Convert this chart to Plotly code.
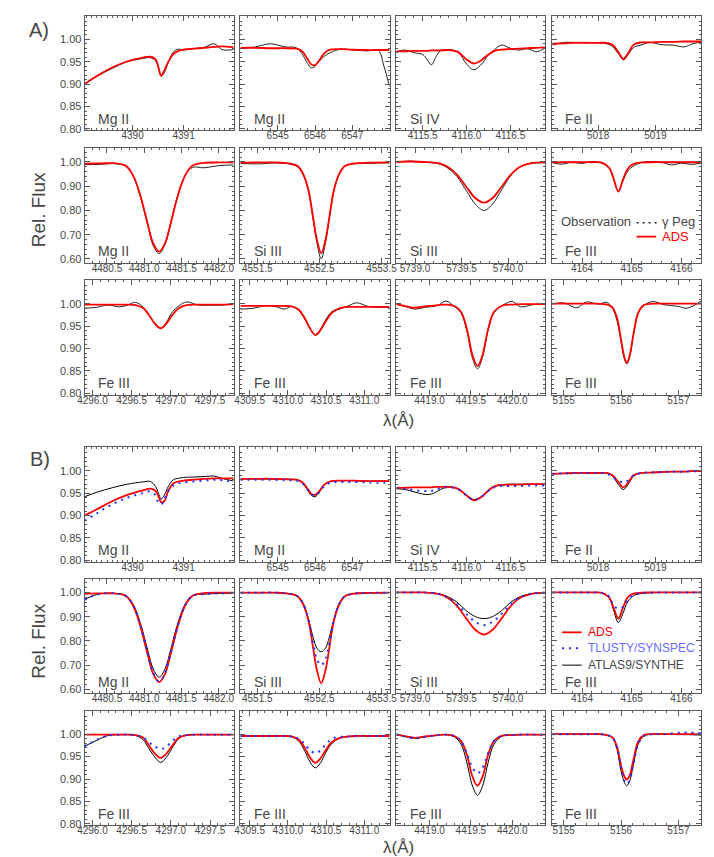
import plotly.graph_objects as go
from plotly.subplots import make_subplots

# --- Data: wavelength (A) and relative flux ---
# A) = observation of gamma Peg + ADS model, B) = ADS / TLUSTY / ATLAS9 models

# Mg II 4390.6
MG4390_WL = [4389.06, 4389.3, 4389.6, 4389.9, 4390.2, 4390.35, 4390.45, 4390.5, 4390.56, 4390.62,
             4390.7, 4390.8, 4390.9, 4391.0, 4391.2, 4391.4, 4391.6, 4391.75, 4391.98]
MG4390_OBS = [0.900, 0.917, 0.935, 0.950, 0.957, 0.959, 0.952, 0.940, 0.917, 0.925,
              0.948, 0.972, 0.978, 0.976, 0.979, 0.982, 0.990, 0.977, 0.977]
MG4390_ADS_A = [0.900, 0.918, 0.937, 0.951, 0.959, 0.961, 0.955, 0.940, 0.919, 0.930,
                0.950, 0.967, 0.974, 0.977, 0.979, 0.981, 0.983, 0.984, 0.982]
MG4390_ADS_B = [0.900, 0.914, 0.932, 0.946, 0.956, 0.960, 0.955, 0.945, 0.930, 0.932,
                0.955, 0.972, 0.976, 0.978, 0.980, 0.982, 0.983, 0.983, 0.983]
MG4390_TLUSTY = [0.888, 0.905, 0.925, 0.940, 0.950, 0.954, 0.945, 0.930, 0.925, 0.935,
                 0.955, 0.968, 0.972, 0.974, 0.976, 0.978, 0.980, 0.979, 0.975]
MG4390_ATLAS = [0.942, 0.952, 0.962, 0.970, 0.975, 0.976, 0.965, 0.952, 0.937, 0.945,
                0.965, 0.980, 0.983, 0.985, 0.986, 0.987, 0.988, 0.983, 0.977]

# Mg II 6546
MG6546_WL = [6544.0, 6544.4, 6544.8, 6545.2, 6545.5, 6545.65, 6545.8, 6545.9, 6546.0, 6546.1,
             6546.25, 6546.4, 6546.7, 6547.0, 6547.4, 6547.7, 6547.85, 6548.0]
MG6546_OBS = [0.979, 0.983, 0.990, 0.983, 0.981, 0.968, 0.946, 0.936, 0.940, 0.950,
              0.962, 0.970, 0.978, 0.976, 0.974, 0.975, 0.940, 0.895]
MG6546_ADS_A = [0.981, 0.981, 0.980, 0.980, 0.979, 0.974, 0.956, 0.944, 0.942, 0.951,
                0.969, 0.977, 0.978, 0.977, 0.976, 0.976, 0.976, 0.976]
MG6546_ADS_B = [0.982, 0.982, 0.982, 0.981, 0.980, 0.975, 0.960, 0.949, 0.946, 0.953,
                0.969, 0.976, 0.978, 0.978, 0.977, 0.977, 0.977, 0.977]
MG6546_TLUSTY = [0.980, 0.980, 0.980, 0.979, 0.978, 0.973, 0.958, 0.948, 0.945, 0.951,
                 0.966, 0.973, 0.975, 0.975, 0.974, 0.973, 0.973, 0.973]
MG6546_ATLAS = [0.982, 0.982, 0.982, 0.981, 0.980, 0.974, 0.957, 0.945, 0.942, 0.950,
                0.968, 0.976, 0.978, 0.978, 0.977, 0.977, 0.977, 0.977]

# Si IV 4116
SI4116_WL = [4115.2, 4115.3, 4115.4, 4115.5, 4115.55, 4115.6, 4115.65, 4115.7, 4115.8, 4115.9,
             4116.0, 4116.08, 4116.16, 4116.25, 4116.32, 4116.4, 4116.5, 4116.6, 4116.7, 4116.8, 4116.9]
SI4116_OBS = [0.972, 0.976, 0.970, 0.966, 0.955, 0.943, 0.960, 0.974, 0.977, 0.972,
              0.945, 0.932, 0.942, 0.965, 0.977, 0.987, 0.980, 0.976, 0.979, 0.972, 0.981]
SI4116_ADS_A = [0.973, 0.973, 0.974, 0.974, 0.974, 0.975, 0.975, 0.975, 0.976, 0.972,
                0.955, 0.946, 0.952, 0.966, 0.974, 0.977, 0.978, 0.979, 0.980, 0.981, 0.982]
SI4116_ADS_B = [0.962, 0.962, 0.963, 0.963, 0.963, 0.963, 0.964, 0.964, 0.964, 0.960,
                0.945, 0.934, 0.940, 0.956, 0.965, 0.968, 0.969, 0.969, 0.970, 0.970, 0.970]
SI4116_TLUSTY = [0.961, 0.960, 0.957, 0.955, 0.955, 0.955, 0.958, 0.961, 0.963, 0.959,
                 0.945, 0.935, 0.940, 0.955, 0.963, 0.966, 0.966, 0.966, 0.967, 0.967, 0.967]
SI4116_ATLAS = [0.960, 0.958, 0.953, 0.948, 0.947, 0.948, 0.952, 0.958, 0.964, 0.960,
                0.946, 0.936, 0.941, 0.957, 0.966, 0.969, 0.970, 0.970, 0.970, 0.970, 0.970]

# Fe II 5018
FE5018_WL = [5017.2, 5017.4, 5017.6, 5017.8, 5018.0, 5018.15, 5018.25, 5018.35, 5018.44,
             5018.52, 5018.62, 5018.75, 5018.9, 5019.1, 5019.3, 5019.5, 5019.65, 5019.8]
FE5018_OBS = [0.987, 0.993, 0.993, 0.993, 0.992, 0.990, 0.984, 0.968, 0.954,
              0.965, 0.982, 0.987, 0.993, 0.988, 0.987, 0.983, 0.990, 0.994]
FE5018_ADS_A = [0.990, 0.991, 0.992, 0.992, 0.992, 0.992, 0.988, 0.972, 0.956,
                0.968, 0.988, 0.993, 0.993, 0.994, 0.994, 0.995, 0.995, 0.995]
FE5018_ADS_B = [0.993, 0.994, 0.995, 0.995, 0.995, 0.995, 0.990, 0.975, 0.963,
                0.973, 0.990, 0.995, 0.996, 0.997, 0.998, 0.998, 0.999, 0.999]
FE5018_TLUSTY = [0.993, 0.994, 0.995, 0.995, 0.995, 0.994, 0.986, 0.978, 0.974,
                 0.978, 0.990, 0.995, 0.996, 0.997, 0.998, 0.998, 0.999, 0.999]
FE5018_ATLAS = [0.993, 0.994, 0.995, 0.995, 0.995, 0.995, 0.988, 0.970, 0.958,
                0.969, 0.988, 0.995, 0.996, 0.997, 0.998, 0.998, 0.999, 0.999]

# Mg II 4481
MG4481_WL = [4480.2, 4480.4, 4480.6, 4480.75, 4480.85, 4480.95, 4481.05, 4481.12, 4481.2,
             4481.28, 4481.35, 4481.45, 4481.55, 4481.65, 4481.8, 4482.0, 4482.2]
MG4481_OBS = [0.989, 0.990, 0.993, 0.983, 0.943, 0.855, 0.735, 0.655, 0.622,
              0.660, 0.740, 0.862, 0.945, 0.978, 0.976, 0.985, 0.988]
MG4481_ADS_A = [0.993, 0.994, 0.995, 0.985, 0.945, 0.860, 0.740, 0.665, 0.630,
                0.665, 0.740, 0.860, 0.945, 0.985, 0.996, 0.998, 0.998]
MG4481_ADS_B = [0.995, 0.996, 0.996, 0.986, 0.946, 0.860, 0.740, 0.665, 0.630,
                0.665, 0.740, 0.860, 0.946, 0.986, 0.997, 0.999, 0.999]
MG4481_TLUSTY = [0.970, 0.994, 0.996, 0.986, 0.947, 0.862, 0.742, 0.668, 0.633,
                 0.668, 0.742, 0.862, 0.947, 0.986, 0.993, 0.996, 0.998]
MG4481_ATLAS = [0.972, 0.994, 0.996, 0.988, 0.952, 0.872, 0.758, 0.685, 0.650,
                0.685, 0.758, 0.872, 0.952, 0.988, 0.993, 0.996, 0.998]

# Si III 4552
SI4552_WL = [4551.23, 4551.5, 4551.8, 4552.0, 4552.15, 4552.25, 4552.33, 4552.4, 4552.46,
             4552.53, 4552.6, 4552.66, 4552.73, 4552.81, 4552.91, 4553.05, 4553.3, 4553.63]
SI4552_OBS = [0.994, 0.992, 0.996, 0.993, 0.980, 0.940, 0.872, 0.762, 0.668,
              0.600, 0.668, 0.765, 0.878, 0.945, 0.982, 0.992, 0.995, 0.996]
SI4552_ADS_A = [0.997, 0.998, 0.998, 0.994, 0.983, 0.945, 0.878, 0.770, 0.680,
                0.623, 0.680, 0.770, 0.878, 0.945, 0.983, 0.994, 0.997, 0.998]
SI4552_ADS_B = [0.999, 0.999, 0.999, 0.995, 0.984, 0.945, 0.878, 0.770, 0.680,
                0.625, 0.680, 0.770, 0.878, 0.945, 0.984, 0.995, 0.998, 0.999]
SI4552_TLUSTY = [0.999, 0.999, 0.999, 0.995, 0.984, 0.947, 0.880, 0.790, 0.725,
                 0.700, 0.725, 0.790, 0.880, 0.947, 0.984, 0.995, 0.998, 0.999]
SI4552_ATLAS = [0.999, 0.999, 0.999, 0.995, 0.985, 0.950, 0.885, 0.815, 0.770,
                0.755, 0.770, 0.815, 0.885, 0.950, 0.985, 0.995, 0.998, 0.999]

# Si III 5739
SI5739_WL = [5738.8, 5738.95, 5739.1, 5739.25, 5739.35, 5739.45, 5739.55, 5739.65, 5739.74,
             5739.83, 5739.93, 5740.03, 5740.13, 5740.25, 5740.4]
SI5739_OBS = [0.998, 1.004, 0.999, 0.993, 0.975, 0.940, 0.882, 0.825, 0.800,
              0.825, 0.885, 0.945, 0.980, 0.995, 0.997]
SI5739_ADS_A = [1.000, 1.002, 1.000, 0.995, 0.980, 0.948, 0.898, 0.850, 0.832,
                0.850, 0.898, 0.948, 0.980, 0.995, 0.998]
SI5739_ADS_B = [1.000, 1.000, 1.000, 0.994, 0.978, 0.945, 0.893, 0.845, 0.826,
                0.845, 0.893, 0.945, 0.978, 0.994, 0.999]
SI5739_TLUSTY = [1.000, 1.000, 1.000, 0.995, 0.980, 0.952, 0.912, 0.878, 0.865,
                 0.878, 0.912, 0.952, 0.980, 0.995, 0.999]
SI5739_ATLAS = [1.000, 1.000, 1.000, 0.995, 0.983, 0.960, 0.925, 0.900, 0.892,
                0.900, 0.925, 0.960, 0.983, 0.995, 0.999]

# Fe III 4164
FE4164_WL = [4163.4, 4163.6, 4163.8, 4164.0, 4164.2, 4164.4, 4164.55, 4164.63, 4164.73, 4164.82,
             4164.92, 4165.05, 4165.2, 4165.4, 4165.6, 4165.8, 4166.0, 4166.2, 4166.4]
FE4164_OBS = [0.997, 0.991, 0.999, 0.994, 1.002, 0.995, 0.972, 0.930, 0.880, 0.920,
              0.962, 0.985, 0.998, 1.002, 0.999, 0.988, 0.995, 0.990, 0.996]
FE4164_ADS_A = [0.998, 0.999, 0.999, 0.999, 0.999, 0.997, 0.975, 0.935, 0.878, 0.925,
                0.972, 0.993, 0.998, 0.999, 0.999, 0.999, 0.999, 0.999, 0.999]
FE4164_ADS_B = [1.000, 1.000, 1.000, 1.000, 1.000, 0.998, 0.978, 0.940, 0.892, 0.935,
                0.980, 0.996, 0.999, 1.000, 1.000, 1.000, 1.000, 1.000, 1.000]
FE4164_TLUSTY = [1.000, 1.000, 1.000, 1.000, 1.000, 0.998, 0.982, 0.945, 0.935, 0.940,
                 0.968, 0.990, 0.997, 0.999, 1.000, 1.000, 1.000, 1.000, 1.000]
FE4164_ATLAS = [1.000, 1.000, 1.000, 1.000, 1.000, 0.998, 0.975, 0.930, 0.876, 0.912,
                0.962, 0.988, 0.996, 0.999, 1.000, 1.000, 1.000, 1.000, 1.000]

# Fe III 4297
FE4297_WL = [4295.9, 4296.05, 4296.2, 4296.35, 4296.45, 4296.55, 4296.65, 4296.72, 4296.8,
             4296.87, 4296.94, 4297.02, 4297.1, 4297.2, 4297.35, 4297.5, 4297.65, 4297.8]
FE4297_OBS = [0.990, 0.992, 0.997, 0.993, 0.997, 1.003, 0.992, 0.975, 0.953,
              0.945, 0.958, 0.982, 0.995, 1.004, 0.997, 0.997, 0.997, 1.000]
FE4297_ADS_A = [0.998, 0.998, 0.998, 0.998, 0.998, 0.997, 0.990, 0.975, 0.955,
                0.945, 0.955, 0.975, 0.990, 0.997, 0.998, 0.998, 0.998, 0.999]
FE4297_ADS_B = [0.999, 0.999, 0.999, 0.999, 0.999, 0.998, 0.992, 0.975, 0.956,
                0.947, 0.956, 0.975, 0.992, 0.998, 0.999, 0.999, 0.999, 0.999]
FE4297_TLUSTY = [0.973, 0.987, 0.997, 0.999, 0.999, 0.998, 0.992, 0.982, 0.972,
                 0.967, 0.972, 0.985, 0.995, 0.998, 0.999, 0.999, 0.999, 0.999]
FE4297_ATLAS = [0.973, 0.986, 0.997, 0.999, 0.999, 0.997, 0.987, 0.968, 0.948,
                0.937, 0.948, 0.970, 0.990, 0.998, 0.999, 0.999, 0.999, 0.999]

# Fe III 4310
FE4310_WL = [4309.38, 4309.55, 4309.72, 4309.85, 4309.96, 4310.05, 4310.14, 4310.22, 4310.29, 4310.36,
             4310.43, 4310.5, 4310.58, 4310.68, 4310.8, 4310.9, 4311.05, 4311.2, 4311.33]
FE4310_OBS = [0.988, 0.990, 0.996, 0.993, 0.988, 0.994, 0.985, 0.966, 0.944, 0.931,
              0.944, 0.966, 0.983, 0.988, 0.996, 1.002, 0.994, 0.992, 0.992]
FE4310_ADS_A = [0.995, 0.995, 0.995, 0.995, 0.995, 0.994, 0.987, 0.968, 0.945, 0.930,
                0.942, 0.962, 0.980, 0.990, 0.993, 0.993, 0.993, 0.993, 0.993]
FE4310_ADS_B = [0.996, 0.996, 0.996, 0.996, 0.996, 0.995, 0.988, 0.970, 0.948, 0.936,
                0.947, 0.966, 0.983, 0.992, 0.995, 0.996, 0.996, 0.996, 0.996]
FE4310_TLUSTY = [0.996, 0.996, 0.996, 0.996, 0.996, 0.995, 0.990, 0.978, 0.964, 0.958,
                 0.964, 0.978, 0.990, 0.994, 0.995, 0.996, 0.996, 0.996, 0.996]
FE4310_ATLAS = [0.996, 0.996, 0.996, 0.996, 0.996, 0.994, 0.985, 0.963, 0.938, 0.925,
                0.937, 0.960, 0.980, 0.991, 0.995, 0.996, 0.996, 0.996, 0.996]

# Fe III 4419
FE4419_WL = [4418.6, 4418.72, 4418.82, 4418.95, 4419.1, 4419.2, 4419.3, 4419.38, 4419.45, 4419.52,
             4419.58, 4419.64, 4419.71, 4419.78, 4419.88, 4420.0, 4420.1, 4420.25, 4420.4]
FE4419_OBS = [0.999, 0.993, 0.988, 0.992, 0.996, 1.006, 0.994, 0.980, 0.940, 0.878,
              0.855, 0.880, 0.942, 0.980, 0.996, 1.005, 0.993, 0.998, 0.999]
FE4419_ADS_A = [0.999, 0.994, 0.991, 0.994, 0.997, 0.998, 0.995, 0.982, 0.945, 0.885,
                0.861, 0.885, 0.945, 0.982, 0.996, 0.998, 0.999, 0.999, 0.999]
FE4419_ADS_B = [0.999, 0.995, 0.992, 0.995, 0.998, 0.999, 0.996, 0.985, 0.955, 0.905,
                0.885, 0.905, 0.955, 0.985, 0.997, 0.998, 0.999, 0.999, 0.999]
FE4419_TLUSTY = [1.000, 0.994, 0.991, 0.994, 0.998, 0.999, 0.996, 0.985, 0.958, 0.925,
                 0.913, 0.925, 0.958, 0.985, 0.997, 0.998, 0.999, 0.999, 0.999]
FE4419_ATLAS = [0.999, 0.994, 0.991, 0.994, 0.998, 0.999, 0.994, 0.978, 0.938, 0.884,
                0.864, 0.884, 0.938, 0.978, 0.996, 0.998, 0.999, 0.999, 0.999]

# Fe III 5156
FE5156_WL = [5154.8, 5155.0, 5155.23, 5155.4, 5155.6, 5155.75, 5155.85, 5155.93, 5156.0, 5156.06,
             5156.1, 5156.15, 5156.22, 5156.3, 5156.4, 5156.55, 5156.75, 5157.0, 5157.15, 5157.4]
FE5156_OBS = [0.999, 1.002, 0.991, 1.004, 0.999, 1.003, 0.990, 0.962, 0.915, 0.876,
              0.866, 0.880, 0.932, 0.978, 0.996, 1.005, 0.998, 0.994, 0.990, 1.006]
FE5156_ADS_A = [1.000, 1.000, 1.000, 1.000, 1.000, 0.998, 0.992, 0.968, 0.920, 0.880,
                0.868, 0.884, 0.935, 0.980, 0.997, 1.000, 1.000, 1.000, 1.000, 1.000]
FE5156_ADS_B = [1.000, 1.000, 1.000, 1.000, 1.000, 0.998, 0.993, 0.972, 0.930, 0.905,
                0.899, 0.908, 0.945, 0.984, 0.998, 1.000, 1.000, 1.000, 1.000, 1.000]
FE5156_TLUSTY = [1.000, 1.000, 1.000, 1.000, 1.000, 0.998, 0.993, 0.970, 0.925, 0.896,
                 0.889, 0.898, 0.936, 0.978, 0.996, 1.000, 1.000, 1.003, 1.004, 1.002]
FE5156_ATLAS = [1.000, 1.000, 1.000, 1.000, 1.000, 0.998, 0.992, 0.966, 0.918, 0.892,
                0.885, 0.895, 0.935, 0.978, 0.996, 1.000, 1.000, 0.999, 0.999, 0.998]

# tick labels
MG4390_TICKS = [4390, 4391]
MG6546_TICKS = [6545, 6546, 6547]
SI4116_TICKS = [4115.5, 4116.0, 4116.5]
FE5018_TICKS = [5018, 5019]
MG4481_TICKS = [4480.5, 4481.0, 4481.5, 4482.0]
SI4552_TICKS = [4551.5, 4552.5, 4553.5]
SI5739_TICKS = [5739.0, 5739.5, 5740.0]
FE4164_TICKS = [4164, 4165, 4166]
FE4297_TICKS = [4296.0, 4296.5, 4297.0, 4297.5]
FE4310_TICKS = [4309.5, 4310.0, 4310.5, 4311.0]
FE4419_TICKS = [4419.0, 4419.5, 4420.0]
FE5156_TICKS = [5155, 5156, 5157]

Y_TICKS_WEAK = [0.80, 0.85, 0.90, 0.95, 1.00]
Y_TICKS_STRONG = [0.60, 0.70, 0.80, 0.90, 1.00]

LINE_NAMES = ["Mg II", "Mg II", "Si IV", "Fe II",
              "Mg II", "Si III", "Si III", "Fe III",
              "Fe III", "Fe III", "Fe III", "Fe III"]

# --- per-subplot table (layout: x range, tick format, minor tick step) ---
LINES = [
    (MG4390_WL, MG4390_OBS, MG4390_ADS_A, MG4390_ADS_B, MG4390_TLUSTY, MG4390_ATLAS, MG4390_TICKS, [4389.06, 4391.98], "d", 0.1),
    (MG6546_WL, MG6546_OBS, MG6546_ADS_A, MG6546_ADS_B, MG6546_TLUSTY, MG6546_ATLAS, MG6546_TICKS, [6544.0, 6548.0], "d", 0.2),
    (SI4116_WL, SI4116_OBS, SI4116_ADS_A, SI4116_ADS_B, SI4116_TLUSTY, SI4116_ATLAS, SI4116_TICKS, [4115.2, 4116.9], ".1f", 0.1),
    (FE5018_WL, FE5018_OBS, FE5018_ADS_A, FE5018_ADS_B, FE5018_TLUSTY, FE5018_ATLAS, FE5018_TICKS, [5017.2, 5019.8], "d", 0.1),
    (MG4481_WL, MG4481_OBS, MG4481_ADS_A, MG4481_ADS_B, MG4481_TLUSTY, MG4481_ATLAS, MG4481_TICKS, [4480.2, 4482.2], ".1f", 0.1),
    (SI4552_WL, SI4552_OBS, SI4552_ADS_A, SI4552_ADS_B, SI4552_TLUSTY, SI4552_ATLAS, SI4552_TICKS, [4551.23, 4553.63], ".1f", 0.1),
    (SI5739_WL, SI5739_OBS, SI5739_ADS_A, SI5739_ADS_B, SI5739_TLUSTY, SI5739_ATLAS, SI5739_TICKS, [5738.8, 5740.4], ".1f", 0.1),
    (FE4164_WL, FE4164_OBS, FE4164_ADS_A, FE4164_ADS_B, FE4164_TLUSTY, FE4164_ATLAS, FE4164_TICKS, [4163.4, 4166.4], "d", 0.2),
    (FE4297_WL, FE4297_OBS, FE4297_ADS_A, FE4297_ADS_B, FE4297_TLUSTY, FE4297_ATLAS, FE4297_TICKS, [4295.9, 4297.8], ".1f", 0.1),
    (FE4310_WL, FE4310_OBS, FE4310_ADS_A, FE4310_ADS_B, FE4310_TLUSTY, FE4310_ATLAS, FE4310_TICKS, [4309.38, 4311.33], ".1f", 0.1),
    (FE4419_WL, FE4419_OBS, FE4419_ADS_A, FE4419_ADS_B, FE4419_TLUSTY, FE4419_ATLAS, FE4419_TICKS, [4418.6, 4420.4], ".1f", 0.1),
    (FE5156_WL, FE5156_OBS, FE5156_ADS_A, FE5156_ADS_B, FE5156_TLUSTY, FE5156_ATLAS, FE5156_TICKS, [5154.8, 5157.4], "d", 0.2),
]

# --- Geometry (pixels of a 714x857 page) ---
W, H = 714, 857
COL_X = [(71, 223), (230, 382), (389, 541), (548, 700)]
ROW_Y = [(8, 123), (141, 256), (274, 389), (442, 557), (574, 689), (707, 822)]
FONT = "Liberation Sans, Arial, sans-serif"
GREY = "#474747"
AXIS = "#5a5a5a"
RED = "#ff0000"
BLUE = "#2030ff"


def fx(p):
    return p / W


def fy(p):
    return 1 - p / H


fig = make_subplots(rows=6, cols=4)

for i, (wl, obs, ads_a, ads_b, tl, at, ticks, xr, fmt, minor) in enumerate(LINES):
    r, c = i // 4, i % 4
    for panel in (0, 1):
        row = r + 1 + 3 * panel
        col = c + 1
        if panel == 0:
            fig.add_trace(go.Scatter(x=wl, y=obs, mode="lines", line=dict(color="#222222", width=1, shape="spline"),
                                     showlegend=False, hoverinfo="skip"), row=row, col=col)
            fig.add_trace(go.Scatter(x=wl, y=ads_a, mode="lines", line=dict(color=RED, width=1.8, shape="spline"),
                                     showlegend=False, hoverinfo="skip"), row=row, col=col)
        else:
            fig.add_trace(go.Scatter(x=wl, y=at, mode="lines", line=dict(color="black", width=1, shape="spline"),
                                     showlegend=False, hoverinfo="skip"), row=row, col=col)
            fig.add_trace(go.Scatter(x=wl, y=ads_b, mode="lines", line=dict(color=RED, width=1.8, shape="spline"),
                                     showlegend=False, hoverinfo="skip"), row=row, col=col)
            fig.add_trace(go.Scatter(x=wl, y=tl, mode="lines",
                                     line=dict(color=BLUE, width=2, dash="2px,5px", shape="spline"),
                                     showlegend=False, hoverinfo="skip"), row=row, col=col)

        x0, x1 = COL_X[c]
        y0, y1 = ROW_Y[row - 1]
        fig.update_xaxes(domain=[fx(x0), fx(x1)], range=xr, tickmode="array", tickvals=ticks, tickformat=fmt,
                         minor=dict(tickmode="linear", tick0=ticks[0], dtick=minor, ticks="inside",
                                    ticklen=2, tickcolor=AXIS),
                         row=row, col=col)
        strong = (r == 1)
        fig.update_yaxes(domain=[fy(y1), fy(y0)],
                         range=[0.585, 1.057] if strong else [0.797, 1.052],
                         tickmode="array", tickvals=Y_TICKS_STRONG if strong else Y_TICKS_WEAK,
                         tickformat=".2f", showticklabels=(c == 0),
                         minor=dict(tickmode="linear", tick0=0.6, dtick=0.02 if strong else 0.01,
                                    ticks="inside", ticklen=2, tickcolor=AXIS),
                         row=row, col=col)

        n = (row - 1) * 4 + col
        ref = "x" if n == 1 else f"x{n}"
        yref = "y" if n == 1 else f"y{n}"
        fig.add_annotation(text=LINE_NAMES[i], xref=f"{ref} domain", yref=f"{yref} domain",
                           x=0.075, y=0.1, xanchor="left", yanchor="middle", showarrow=False,
                           font=dict(size=14, color=GREY, family=FONT))

fig.update_xaxes(showline=True, linecolor=AXIS, linewidth=1, mirror="ticks", ticks="inside", ticklen=5,
                 tickcolor=AXIS, showgrid=False, zeroline=False, ticklabelstandoff=-4,
                 tickfont=dict(size=10, color=GREY, family=FONT))
fig.update_yaxes(showline=True, linecolor=AXIS, linewidth=1, mirror="ticks", ticks="inside", ticklen=5,
                 tickcolor=AXIS, showgrid=False, zeroline=False,
                 tickfont=dict(size=11, color=GREY, family=FONT))

# panel letters, axis titles
texts = [
    ("A)", 24, 22, 20, 0), ("B)", 26, 454, 20, 0),
    ("Rel. Flux", 24, 203, 19, -90), ("Rel. Flux", 24, 637, 19, -90),
    ("λ(Å)", 391, 415, 17, 0), ("λ(Å)", 391, 844, 17, 0),
]
for t, px, py, size, ang in texts:
    fig.add_annotation(text=t, xref="paper", yref="paper", x=fx(px), y=fy(py), xanchor="center",
                       yanchor="middle", showarrow=False, textangle=ang,
                       font=dict(size=size, color=GREY, family=FONT))

# legend of panel A
fig.add_annotation(text="Observation", xref="paper", yref="paper", x=fx(630), y=fy(215), xanchor="right",
                   yanchor="middle", showarrow=False, font=dict(size=13, color=GREY, family=FONT))
fig.add_annotation(text="γ Peg", xref="paper", yref="paper", x=fx(658), y=fy(215), xanchor="left",
                   yanchor="middle", showarrow=False, font=dict(size=13, color=GREY, family=FONT))
fig.add_annotation(text="ADS", xref="paper", yref="paper", x=fx(658), y=fy(230), xanchor="left",
                   yanchor="middle", showarrow=False, font=dict(size=13, color=RED, family=FONT))
fig.add_shape(type="line", xref="paper", yref="paper", x0=fx(634), x1=fx(656), y0=fy(216), y1=fy(216),
              line=dict(color="#222222", width=1.5, dash="2px,4px"))
fig.add_shape(type="line", xref="paper", yref="paper", x0=fx(634), x1=fx(654), y0=fy(230), y1=fy(230),
              line=dict(color=RED, width=1.8))

# legend of panel B
legend_b = [("ADS", RED, 628, None, 1.8), ("TLUSTY/SYNSPEC", "#6a6aff", 644, "2px,5px", 2),
            ("ATLAS9/SYNTHE", GREY, 661, None, 1)]
for label, color, py, dash, width in legend_b:
    fig.add_annotation(text=label, xref="paper", yref="paper", x=fx(582), y=fy(py), xanchor="left",
                       yanchor="middle", showarrow=False, font=dict(size=12, color=color, family=FONT))
    line_color = BLUE if dash else ("black" if color == GREY else color)
    fig.add_shape(type="line", xref="paper", yref="paper", x0=fx(558), x1=fx(578), y0=fy(py), y1=fy(py),
                  line=dict(color=line_color, width=width, dash=dash or "solid"))

fig.update_layout(width=W, height=H, margin=dict(l=0, r=0, t=0, b=0),
                  plot_bgcolor="white", paper_bgcolor="white", showlegend=False)

fig.write_html("out.html")
